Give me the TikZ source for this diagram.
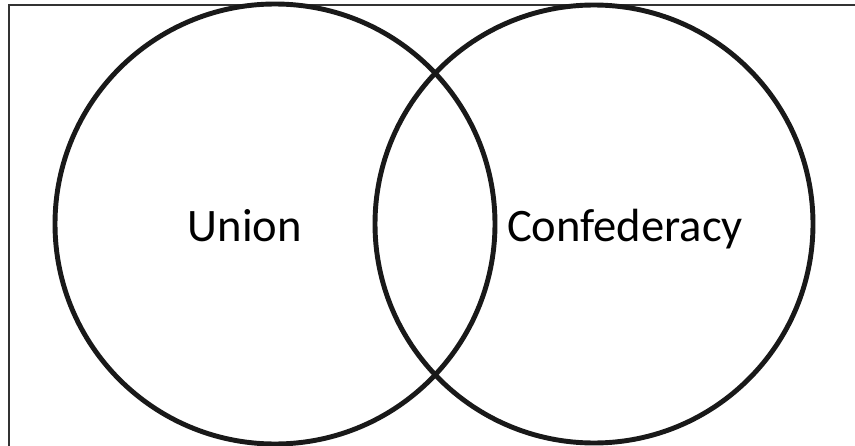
\documentclass[tikz,border=0pt]{standalone}
\usepackage{fontspec}
\setsansfont{Carlito}

\begin{document}
\begin{tikzpicture}[x=0.02cm,y=-0.02cm,
  font=\sffamily\fontsize{26.5}{30}\selectfont,
  ring/.style={line width=2.8pt,black!90},
  label/.style={anchor=base,inner sep=0pt}]
  \clip (0,0) rectangle (855,446);
  \useasboundingbox (0,0) rectangle (855,446);
  % frame, only its top and left edges fall inside
  \draw[line width=1.6pt,black!80] (9,5) rectangle (880,470);
  % the two sets
  \draw[ring] (275,224) circle[radius=220];
  \draw[ring] (594,224) circle[radius=219];
  \node[label] (union) at (245,241) {Union};
  \node[label] (confed) at (625,241) {Confederacy};
\end{tikzpicture}
\end{document}
